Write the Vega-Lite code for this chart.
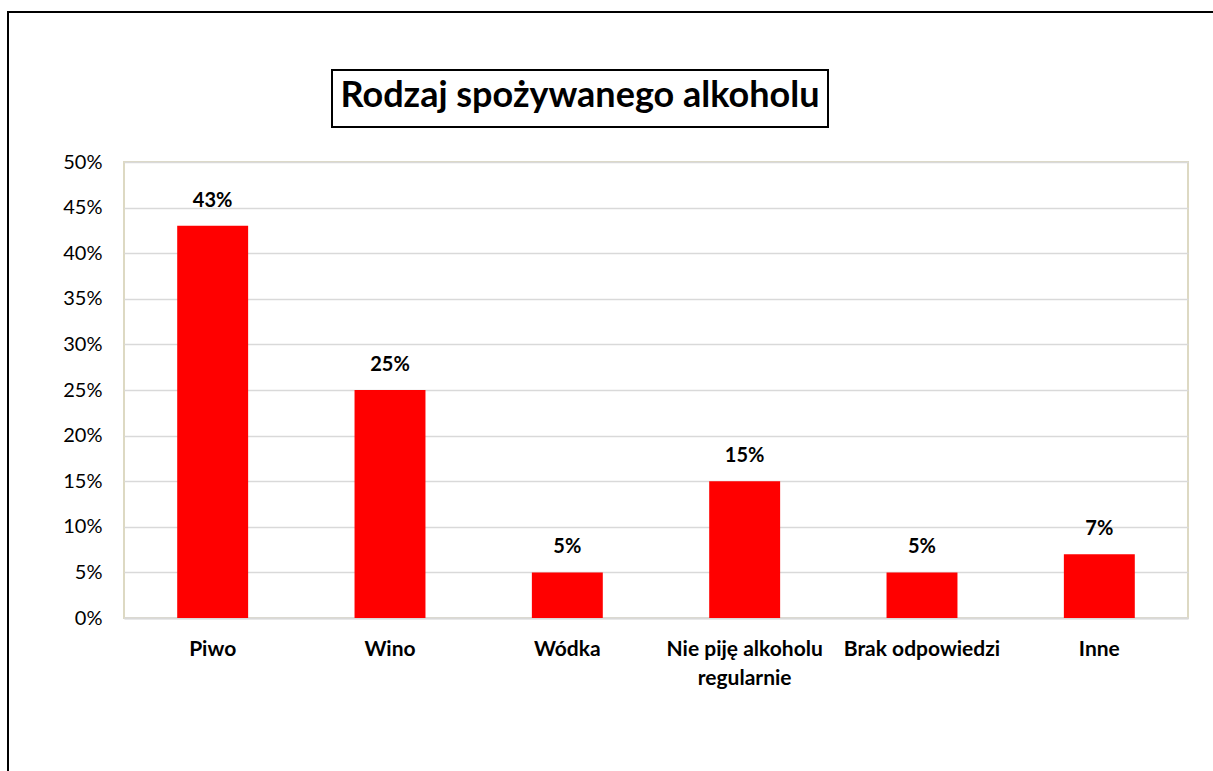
{
  "$schema": "https://vega.github.io/schema/vega-lite/v6.json",
  "width": 1064,
  "height": 456,
  "autosize": {"type": "none"},
  "padding": {"left": 124, "top": 162, "right": 25, "bottom": 153},
  "background": "white",
  "title": {
    "text": "Rodzaj spożywanego alkoholu",
    "anchor": "middle",
    "frame": "group",
    "dx": -76,
    "offset": 0,
    "dy": 140,
    "baseline": "bottom",
    "font": "Lato",
    "fontSize": 36,
    "fontWeight": "bold",
    "color": "black"
  },
  "config": {
    "view": {"stroke": "#DDD9C3", "strokeWidth": 2},
    "font": "Lato"
  },
  "data": {
    "values": [
      {"kategoria": "Piwo", "udzial": 0.43},
      {"kategoria": "Wino", "udzial": 0.25},
      {"kategoria": "Wódka", "udzial": 0.05},
      {"kategoria": "Nie piję alkoholu regularnie", "udzial": 0.15},
      {"kategoria": "Brak odpowiedzi", "udzial": 0.05},
      {"kategoria": "Inne", "udzial": 0.07}
    ]
  },
  "encoding": {
    "x": {
      "field": "kategoria",
      "type": "nominal",
      "sort": null,
      "scale": {"paddingInner": 0.6, "paddingOuter": 0.3},
      "axis": {
        "title": null,
        "labelAngle": 0,
        "labelFont": "Lato",
        "labelFontSize": 21,
        "labelFontWeight": "bold",
        "labelColor": "black",
        "labelPadding": 20,
        "labelLineHeight": 29,
        "labelLimit": 300,
        "ticks": false,
        "domainColor": "#D9D9D9",
        "domainWidth": 2,
        "labelExpr": "datum.label == 'Nie piję alkoholu regularnie' ? ['Nie piję alkoholu', 'regularnie'] : datum.label"
      }
    },
    "y": {
      "field": "udzial",
      "type": "quantitative",
      "scale": {"domain": [0, 0.5]},
      "axis": {
        "title": null,
        "format": ".0%",
        "values": [0, 0.05, 0.1, 0.15, 0.2, 0.25, 0.3, 0.35, 0.4, 0.45, 0.5],
        "labelFont": "Lato",
        "labelFontSize": 20,
        "labelColor": "black",
        "labelPadding": 22,
        "ticks": false,
        "domain": false,
        "gridColor": "#D9D9D9",
        "gridWidth": 1.5
      }
    }
  },
  "layer": [
    {
      "mark": {"type": "bar", "color": "#FF0000"}
    },
    {
      "mark": {"type": "text", "font": "Lato", "fontSize": 20, "fontWeight": "bold", "color": "black", "baseline": "alphabetic", "dy": -19},
      "encoding": {
        "text": {"field": "udzial", "type": "quantitative", "format": ".0%"}
      }
    },
    {
      "data": {"values": [{"frame": "outer"}]},
      "mark": {"type": "rect", "fill": null, "stroke": "black", "strokeWidth": 2},
      "encoding": {
        "x": {"value": -116},
        "x2": {"value": 1099},
        "y": {"value": -150},
        "y2": {"value": 619}
      }
    },
    {
      "data": {"values": [{"frame": "title"}]},
      "mark": {"type": "rect", "fill": null, "stroke": "black", "strokeWidth": 2},
      "encoding": {
        "x": {"value": 208},
        "x2": {"value": 704},
        "y": {"value": -92},
        "y2": {"value": -35}
      }
    }
  ]
}
